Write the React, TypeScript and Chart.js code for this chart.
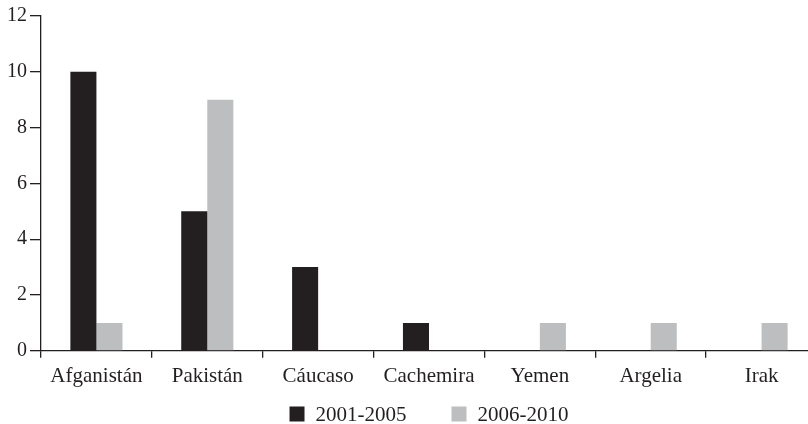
import React, { useEffect, useRef } from "react";
import { Chart, registerables } from "chart.js";

Chart.register(...registerables);

const categories = ["Afganistán", "Pakistán", "Cáucaso", "Cachemira", "Yemen", "Argelia", "Irak"];
const series1Label = "2001-2005";
const series2Label = "2006-2010";
const series1 = [10, 5, 3, 1, 0, 0, 0];
const series2 = [1, 9, 0, 0, 1, 1, 1];
const yTicks = [0, 2, 4, 6, 8, 10, 12];

const DARK = "#231f20";
const GRAY = "#bcbec0";
const FONT = "'Liberation Serif', 'Times New Roman', serif";

const legendPlugin = {
  id: "customLegend",
  afterDraw(chart: any) {
    const ctx = chart.ctx;
    const area = chart.chartArea;
    const box = 15;
    const gapText = 11;
    const gapItem = 45;
    ctx.save();
    ctx.font = `21px ${FONT}`;
    const items = chart.data.datasets.map((d: any) => ({
      label: d.label,
      color: d.backgroundColor,
      w: ctx.measureText(d.label).width,
    }));
    let total = 0;
    items.forEach((it: any, i: number) => {
      total += box + gapText + it.w + (i > 0 ? gapItem : 0);
    });
    let x = (area.left + area.right) / 2 - total / 2;
    const cy = 414;
    ctx.textBaseline = "middle";
    ctx.textAlign = "left";
    items.forEach((it: any) => {
      ctx.fillStyle = it.color;
      ctx.fillRect(x, cy - box / 2, box, box);
      ctx.fillStyle = DARK;
      ctx.fillText(it.label, x + box + gapText, cy + 1);
      x += box + gapText + it.w + gapItem;
    });
    ctx.restore();
  },
};

export default function App() {
  const ref = useRef<HTMLCanvasElement>(null);
  useEffect(() => {
    if (!ref.current) return;
    const chart = new Chart(ref.current, {
      type: "bar",
      data: {
        labels: categories,
        datasets: [
          { label: series1Label, data: series1, backgroundColor: DARK, borderWidth: 0 },
          { label: series2Label, data: series2, backgroundColor: GRAY, borderWidth: 0 },
        ],
      },
      options: {
        responsive: false,
        animation: false,
        devicePixelRatio: 1,
        layout: { padding: { left: 0, right: 13, top: 16, bottom: 29 } },
        plugins: { legend: { display: false }, tooltip: { enabled: false } },
        datasets: { bar: { categoryPercentage: 0.47, barPercentage: 1 } },
        scales: {
          x: {
            grid: {
              display: true,
              drawOnChartArea: false,
              drawTicks: true,
              tickLength: 7,
              color: DARK,
              lineWidth: 1.3,
              offset: true,
            },
            border: { display: true, color: DARK, width: 1.3 },
            ticks: { color: DARK, font: { family: FONT, size: 21 }, padding: 6, maxRotation: 0, autoSkip: false },
          },
          y: {
            min: 0,
            max: 12,
            afterBuildTicks: (s: any) => {
              s.ticks = yTicks.map((v) => ({ value: v }));
            },
            grid: {
              display: true,
              drawOnChartArea: false,
              drawTicks: true,
              tickLength: 11,
              color: DARK,
              lineWidth: 1.3,
            },
            border: { display: true, color: DARK, width: 1.3 },
            ticks: { color: DARK, font: { family: FONT, size: 20 }, padding: 3 },
            afterFit: (s: any) => {
              s.width = 41;
            },
          },
        },
      },
      plugins: [legendPlugin],
    });
    return () => chart.destroy();
  }, []);
  return (
    <div style={{ position: "absolute", left: 0, top: 0, width: 808, height: 424, overflow: "hidden", background: "#fff" }}>
      <canvas ref={ref} width={830} height={424} style={{ display: "block", width: 830, height: 424 }} />
    </div>
  );
}
